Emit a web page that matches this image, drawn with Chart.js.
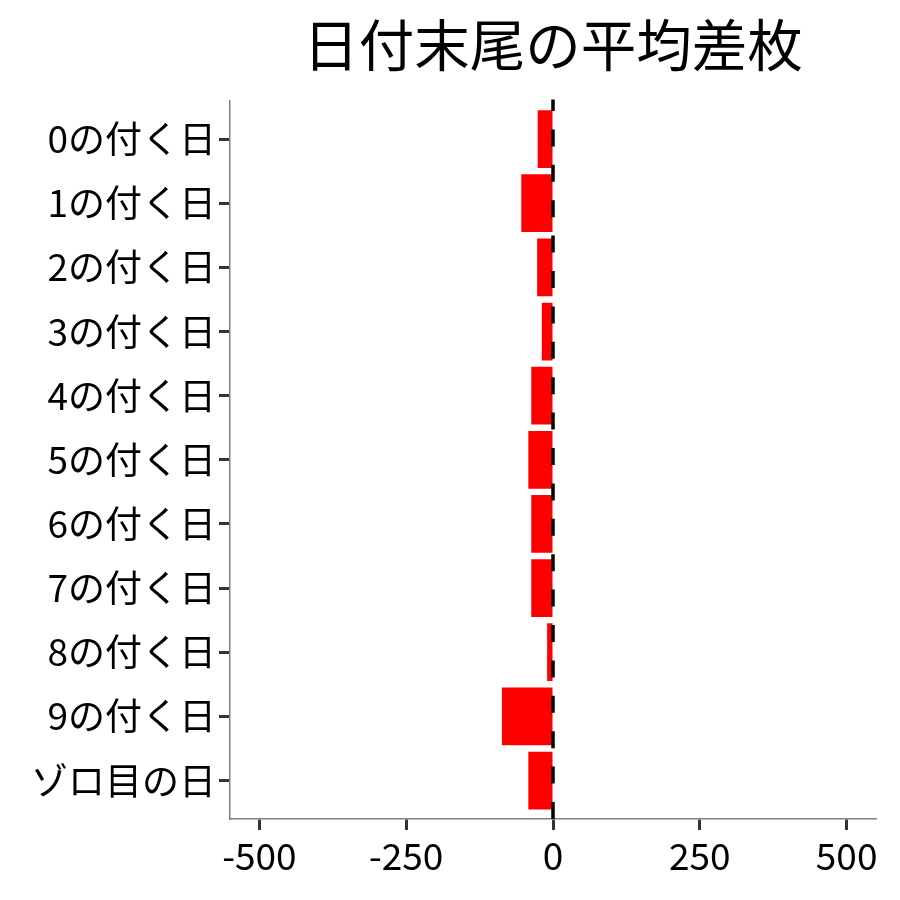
<!DOCTYPE html>
<html><head><meta charset="utf-8">
<script src="https://cdn.jsdelivr.net/npm/chart.js@4.4.1/dist/chart.umd.min.js"></script>
<style>html,body{margin:0;padding:0;background:#fff;}#wrap{width:900px;height:900px;}</style>
</head><body><div id="wrap"><canvas id="c" width="900" height="900"></canvas></div>
<script>
const chartTitle = "日付末尾の平均差枚";
const categories = ["0の付く日","1の付く日","2の付く日","3の付く日","4の付く日","5の付く日","6の付く日","7の付く日","8の付く日","9の付く日","ゾロ目の日"];
const avgDiff = [-26, -54, -27, -19, -37, -42, -37, -37, -10, -87, -42];
const xTickValues = [-500, -250, 0, 250, 500];

const FONT = "'Noto Sans CJK JP', 'Noto Sans', sans-serif";

const zeroLine = {
  id: 'zeroLine',
  afterDatasetsDraw(chart) {
    const {ctx, chartArea, scales} = chart;
    const px = scales.x.getPixelForValue(0);
    ctx.save();
    ctx.strokeStyle = '#000';
    ctx.lineWidth = 3.5;
    ctx.setLineDash([17, 18.4]);
    ctx.beginPath();
    ctx.moveTo(px, chartArea.bottom);
    ctx.lineTo(px, chartArea.top - 1);
    ctx.stroke();
    ctx.restore();
  }
};

new Chart(document.getElementById('c'), {
  type: 'bar',
  data: {
    datasets: [{
      data: avgDiff.map((v, i) => ({x: v, y: i})),
      backgroundColor: '#FF0000',
      borderWidth: 0,
      barPercentage: 0.9,
      categoryPercentage: 1.0
    }]
  },
  options: {
    indexAxis: 'y',
    responsive: false,
    devicePixelRatio: 1,
    animation: false,
    layout: {padding: {left: 0, right: 24, top: 0, bottom: 0}},
    plugins: {
      legend: {display: false},
      tooltip: {enabled: false},
      title: {
        display: true,
        fullSize: false,
        text: chartTitle,
        color: '#000',
        font: {family: FONT, size: 55.5, weight: 'normal'},
        padding: {top: 12, bottom: 22}
      }
    },
    scales: {
      x: {
        type: 'linear',
        min: -550,
        max: 550,
        afterBuildTicks: s => { s.ticks = xTickValues.map(v => ({value: v})); },
        afterFit: s => { s.height = 81; },
        ticks: {color: '#000', font: {family: FONT, size: 37}, padding: 4, autoSkip: false, maxRotation: 0},
        grid: {drawOnChartArea: false, drawTicks: true, tickLength: 11, tickWidth: 3, tickColor: '#333'},
        border: {color: '#808080', width: 1.5}
      },
      y: {
        type: 'linear',
        reverse: true,
        offset: false,
        min: -0.6,
        max: 10.6,
        afterBuildTicks: s => { s.ticks = categories.map((_, i) => ({value: i})); },
        afterFit: s => { s.width = 230; },
        ticks: {color: '#000', font: {family: FONT, size: 37}, padding: 3, autoSkip: false,
          callback: v => categories[v]},
        grid: {offset: false, drawOnChartArea: false, drawTicks: true, tickLength: 11, tickWidth: 3, tickColor: '#333'},
        border: {color: '#808080', width: 1.5}
      }
    }
  },
  plugins: [zeroLine]
});
</script>
</body></html>
